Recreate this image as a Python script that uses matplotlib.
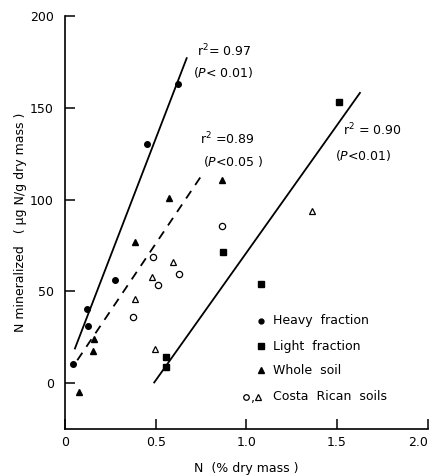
import matplotlib
matplotlib.use("Agg")
import matplotlib.pyplot as plt

# Data
heavy_x = [0.042, 0.120, 0.128, 0.277, 0.450, 0.625]
heavy_y = [10.7, 40.5, 30.9, 56.1, 130.2, 163.1]

light_x = [0.555, 0.555, 0.869, 1.078, 1.512]
light_y = [14.3, 8.7, 71.2, 53.8, 153.3]

whole_x = [0.075, 0.152, 0.162, 0.388, 0.575, 0.864]
whole_y = [-4.7, 17.3, 24.1, 77.0, 100.7, 110.7]

cr_circ_x = [0.485, 0.513, 0.628, 0.373, 0.864]
cr_circ_y = [68.5, 53.6, 59.4, 36.3, 85.7]

cr_tri_x = [0.594, 0.478, 0.388, 0.498, 1.362]
cr_tri_y = [66.1, 57.9, 45.8, 18.5, 93.9]

# regression line end points
heavy_fit_x = [0.055, 0.671]
heavy_fit_y = [18.9, 177.0]
whole_fit_x = [0.068, 0.755]
whole_fit_y = [12.5, 113.4]
light_fit_x = [0.492, 1.626]
light_fit_y = [0.4, 158.1]

xticks = [0, 0.5, 1.0, 1.5, 2.0]
xticklabels = ["0", "0.5", "1.0", "1.5", "2.0"]
yticks = [0, 50, 100, 150, 200]
yticklabels = ["0", "50", "100", "150", "200"]

plt.rcParams['font.family'] = ['DejaVu Sans']
fig = plt.figure(figsize=(4.33, 4.76), dpi=100)
ax = fig.add_axes([0.150, 0.0985, 0.838, 0.868])

ax.plot(heavy_fit_x, heavy_fit_y, color='black', lw=1.3)
ax.plot(whole_fit_x, whole_fit_y, color='black', lw=1.3, dashes=(5, 4))
ax.plot(light_fit_x, light_fit_y, color='black', lw=1.3)

ms = 4.0
ax.plot(heavy_x, heavy_y, 'o', color='black', ms=ms, ls='none')
ax.plot(light_x, light_y, 's', color='black', ms=ms + 0.5, ls='none')
ax.plot(whole_x, whole_y, '^', color='black', ms=ms + 0.5, ls='none')
ax.plot(cr_circ_x, cr_circ_y, 'o', mfc='white', mec='black', mew=0.9, ms=ms + 0.5, ls='none')
ax.plot(cr_tri_x, cr_tri_y, '^', mfc='white', mec='black', mew=0.9, ms=ms + 1, ls='none')

ax.set_xlim(0, 2.0)
ax.set_ylim(-25, 200)
ax.spines['top'].set_visible(False)
ax.spines['right'].set_visible(False)
ax.spines['left'].set_linewidth(1.2)
ax.spines['bottom'].set_linewidth(1.2)
ax.set_xticks(xticks)
ax.set_xticklabels(xticklabels)
ax.set_yticks(yticks)
ax.set_yticklabels(yticklabels)
ax.tick_params(direction='in', length=7, width=1.1, labelsize=9)
ax.tick_params(axis='x', pad=5)
ax.tick_params(axis='y', pad=8)
xt = ax.get_xticklabels()
xt[-1].set_ha('right')
xt[-1].set_x(2.0)

ax.set_xlabel("N  (% dry mass )", fontsize=9, labelpad=9)
ax.set_ylabel("N mineralized   ( \u03bcg N/g dry mass )", fontsize=9, labelpad=2)

fs = 9
ax.text(0.73, 181, "r$^2$= 0.97", fontsize=fs, ha='left', va='center')
ax.text(0.705, 169, "($P$< 0.01)", fontsize=fs, ha='left', va='center')
ax.text(0.745, 133, "r$^2$ =0.89", fontsize=fs, ha='left', va='center')
ax.text(0.76, 121, "($P$<0.05 )", fontsize=fs, ha='left', va='center')
ax.text(1.535, 138, "r$^2$ = 0.90", fontsize=fs, ha='left', va='center')
ax.text(1.49, 124, "($P$<0.01)", fontsize=fs, ha='left', va='center')

# legend drawn as text + markers
leg_x = 1.078
ax.plot([leg_x], [34], 'o', color='black', ms=3.5)
ax.text(leg_x + 0.07, 34, "Heavy  fraction", fontsize=fs, va='center')
ax.plot([leg_x], [20], 's', color='black', ms=4.5)
ax.text(leg_x + 0.07, 20, "Light  fraction", fontsize=fs, va='center')
ax.plot([leg_x], [7], '^', color='black', ms=4)
ax.text(leg_x + 0.07, 7, "Whole  soil", fontsize=fs, va='center')
ax.plot([leg_x - 0.08], [-7.5], 'o', mfc='white', mec='black', ms=4, mew=0.9)
ax.text(leg_x - 0.055, -8.5, ",", fontsize=fs, va='center')
ax.plot([leg_x - 0.015], [-7.5], '^', mfc='white', mec='black', ms=4.5, mew=0.9)
ax.text(leg_x + 0.07, -7.5, "Costa  Rican  soils", fontsize=fs, va='center')

fig.savefig("out.png", dpi=100)
